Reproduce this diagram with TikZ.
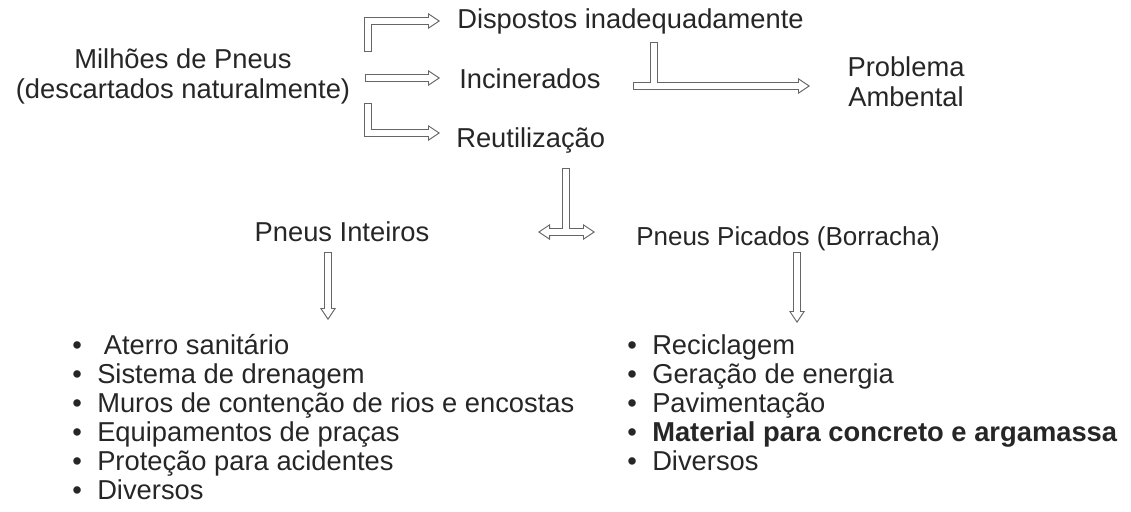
\documentclass[tikz,border=0pt]{standalone}
\usepackage{fontspec}
\setmainfont{Liberation Sans}
\usetikzlibrary{arrows.meta}
\pgfdeclarelayer{fg}
\pgfsetlayers{main,fg}
\tikzset{
  label text/.style={font=\fontsize{20.5}{24}\selectfont, inner sep=0pt, text=black!85},
  item/.style={label text, anchor=base west},
  tube edge/.style={draw=black!60, line width=6pt, line join=miter,
    >={Triangle[length=9pt,width=12pt,line width=0pt]}},
  tube core/.style={draw=white, line width=4.4pt, line join=miter,
    >={Triangle[length=6.8pt,width=9pt,line width=0pt]},
    shorten <=0.8pt, shorten >=1.44pt},
}
% hollow arrow: outline first, white core on the upper layer
\newcommand\tube[3][]{%
  \draw[tube edge,#2] #3;
  \begin{pgfonlayer}{fg}\draw[tube core,#2,#1] #3;\end{pgfonlayer}}
\begin{document}
\begin{tikzpicture}[x=0.75pt, y=-0.75pt]
  \useasboundingbox (0,0) rectangle (1131,511);
  % Source
  \node[label text, anchor=base] (pneus) at (183,68) {Milhões de Pneus};
  \node[label text, anchor=base] (descartados) at (183,98) {(descartados naturalmente)};
  % Three destinations
  \node[item] (dispostos) at (457,28) {Dispostos inadequadamente};
  \node[item] (incinerados) at (459,88) {Incinerados};
  \node[item] (reutilizacao) at (456,147) {Reutilização};
  \node[label text, anchor=base] (problema) at (906,76) {Problema};
  \node[label text, anchor=base] (ambental) at (906,106) {Ambental};
  % Reuse branches
  \node[label text, anchor=base] (inteiros) at (342,241) {Pneus Inteiros};
  \node[item, font=\fontsize{19.5}{23}\selectfont] (picados) at (636,245) {Pneus Picados (Borracha)};

  % Arrow end points
  \coordinate (s1) at (368,52);  \coordinate (t1) at (440,21);
  \coordinate (s2) at (365,78);  \coordinate (t2) at (440,78);
  \coordinate (s3) at (368,103); \coordinate (t3) at (440,133);
  \coordinate (d1) at (654,42);  \coordinate (d2) at (654,86);
  \coordinate (b1) at (633,86);  \coordinate (b2) at (810,86);
  \coordinate (r1) at (566,168); \coordinate (r2) at (566,232);
  \coordinate (h1) at (538,232); \coordinate (h2) at (595,232);
  \coordinate (i1) at (328,252); \coordinate (i2) at (328,320);
  \coordinate (p1) at (797,252); \coordinate (p2) at (797,323);

  \tube{->}{(s1) |- (t1)}
  \tube{->}{(s2) -- (t2)}
  \tube{->}{(s3) |- (t3)}
  \tube{-}{(d1) -- (d2)}
  \tube{->}{(b1) -- (b2)}
  \tube{-}{(r1) -- (r2)}
  \tube[shorten <=1.44pt]{<->}{(h1) -- (h2)}
  \tube{->}{(i1) -- (i2)}
  \tube{->}{(p1) -- (p2)}

  % Lists
  \foreach \txt [count=\i] in {\hspace{5pt}Aterro sanitário, Sistema de drenagem,
      Muros de contenção de rios e encostas, Equipamentos de praças,
      Proteção para acidentes, Diversos}
    \node[item] (inteiro\i) at (72,325+29*\i) {\makebox[18.75pt][l]{•}\txt};
  \foreach \txt [count=\i] in {Reciclagem, Geração de energia, Pavimentação,
      {\bfseries Material para concreto e argamassa}, Diversos}
    \node[item] (picado\i) at (627,325+29*\i) {\makebox[18.75pt][l]{•}\txt};
\end{tikzpicture}
\end{document}
